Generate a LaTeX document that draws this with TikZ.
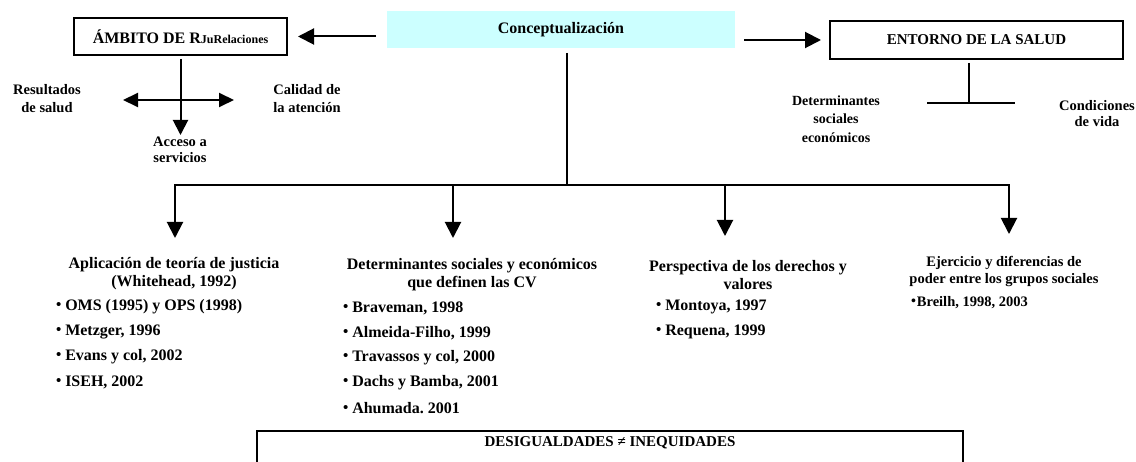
\documentclass[tikz,border=0pt]{standalone}
\usepackage{fontspec}
\setmainfont{Liberation Serif}
\usetikzlibrary{arrows.meta}
\definecolor{cyanbg}{HTML}{CCFFFF}
\newcommand\fs[2]{\fontsize{#1}{#2}\selectfont}
\newcommand\bul{\raisebox{1pt}{\fs{15}{15}•}\hspace{4pt}}
\frenchspacing
\begin{document}
\begin{tikzpicture}[x=1pt,y=-1pt,line width=2pt,font=\bfseries,
  box/.style={draw,line width=2pt,inner sep=0pt},
  lab/.style={align=center,inner sep=0pt,font=\bfseries\fs{14.5}{18}},
  title/.style={align=center,inner sep=0pt,font=\bfseries\fs{16}{18}},
  item/.style={anchor=west,inner sep=0pt,font=\bfseries\fs{16}{18}},
  arr/.style={-{Triangle[length=16pt,width=16pt]}},
  darr/.style={{Triangle[length=15pt,width=14pt]}-{Triangle[length=15pt,width=14pt]}},
  sarr/.style={-{Triangle[length=15pt,width=15pt]}}]
\clip (0,0) rectangle (1136,462);
\fill[white] (0,0) rectangle (1136,462);

% top boxes
\node[box,fill=cyanbg,draw=none,minimum width=348pt,minimum height=37pt] (concept) at (561,29.5) {\fs{16}{18}Conceptualización};
\node[box,minimum width=213pt,minimum height=37pt] (ambito) at (180.5,36.5) {\fs{16}{18}ÁMBITO DE R\fs{12}{14}JuRelaciones};
\node[box,minimum width=293pt,minimum height=38pt] (entorno) at (976.5,40) {\fs{15}{18}ENTORNO DE LA SALUD};

\draw[arr,shorten <=10pt,shorten >=10pt] (concept.west |- ambito.east) -- (ambito.east);
\draw[arr,shorten <=8pt,shorten >=8pt] (concept.east |- entorno.west) -- (entorno.west);

% ambito cross
\node[lab] (resul) at (47,99) {Resultados\\de salud};
\node[lab] (calid) at (307,99) {Calidad de\\la atención};
\node[lab,font=\bfseries\fs{14.5}{16}] (acceso) at (180,150) {Acceso a\\servicios};
\coordinate (xl) at (123,100);
\coordinate (xr) at (234,100);
\coordinate (xd) at (180.5,135);
\draw[sarr,shorten <=3pt] (ambito.south) -- (xd);
\draw[darr] (xl) -- (xr);

% entorno T
\node[lab,font=\bfseries\fs{14}{18.5}] (detsoc) at (836,119) {Determinantes\\sociales\\económicos};
\node[lab,font=\bfseries\fs{14.5}{16}] (condic) at (1097,114) {Condiciones\\de vida};
\coordinate (tc) at (969,103);
\coordinate (tl) at (927,103);
\coordinate (tr) at (1015,103);
\draw[shorten <=3pt] (entorno.south -| tc) -- (tc);
\draw (tl) -- (tr);

% distribution
\coordinate (hub) at (567,185);
\coordinate (e1) at (175,238);
\coordinate (e2) at (453,238);
\coordinate (e3) at (725,236);
\coordinate (e4) at (1009,234);
\draw[shorten <=4pt] (concept.south -| hub) -- (hub);
\draw[arr] (hub) -| (e1);
\draw[arr] (hub) -| (e4);
\draw[arr] (e2 |- hub) -- (e2);
\draw[arr] (e3 |- hub) -- (e3);

% block titles
\node[title] (t1) at (174,274) {Aplicación de teoría de justicia\\(Whitehead, 1992)};
\node[title] (t2) at (472,275) {Determinantes sociales y económicos\\que definen las CV};
\node[title] (t3) at (748,275) {Perspectiva de los derechos y\\valores};
\node[title,font=\bfseries\fs{14.5}{17}] (t4) at (1004,271.5) {Ejercicio y diferencias de\\poder entre los grupos sociales};

% lists
\node[item] (l1a) at (55,307) {\bul OMS (1995) y OPS (1998)};
\node[item] (l1b) at (55,332) {\bul Metzger, 1996};
\node[item] (l1c) at (55,357) {\bul Evans y col, 2002};
\node[item] (l1d) at (55,382) {\bul ISEH, 2002};

\node[item] (l2a) at (342,308) {\bul Braveman, 1998};
\node[item] (l2b) at (342,333) {\bul Almeida-Filho, 1999};
\node[item] (l2c) at (342,358) {\bul Travassos y col, 2000};
\node[item] (l2d) at (342,383) {\bul Dachs y Bamba, 2001};
\node[item] (l2e) at (342,408) {\bul Ahumada. 2001};

\node[item] (l3a) at (655,307) {\bul Montoya, 1997};
\node[item] (l3b) at (655,332) {\bul Requena, 1999};

\node[item,font=\bfseries\fs{14.5}{17}] (l4a) at (910,303) {\raisebox{1pt}{\fs{14}{14}•}\hspace{1pt}Breilh, 1998, 2003};

% bottom box
\node[draw,line width=2pt,anchor=north,minimum width=706pt,inner xsep=0pt,inner ysep=6pt,text depth=40pt,font=\bfseries\fs{15}{18}] (desig) at (610,430) {DESIGUALDADES ≠ INEQUIDADES};
\end{tikzpicture}
\end{document}
